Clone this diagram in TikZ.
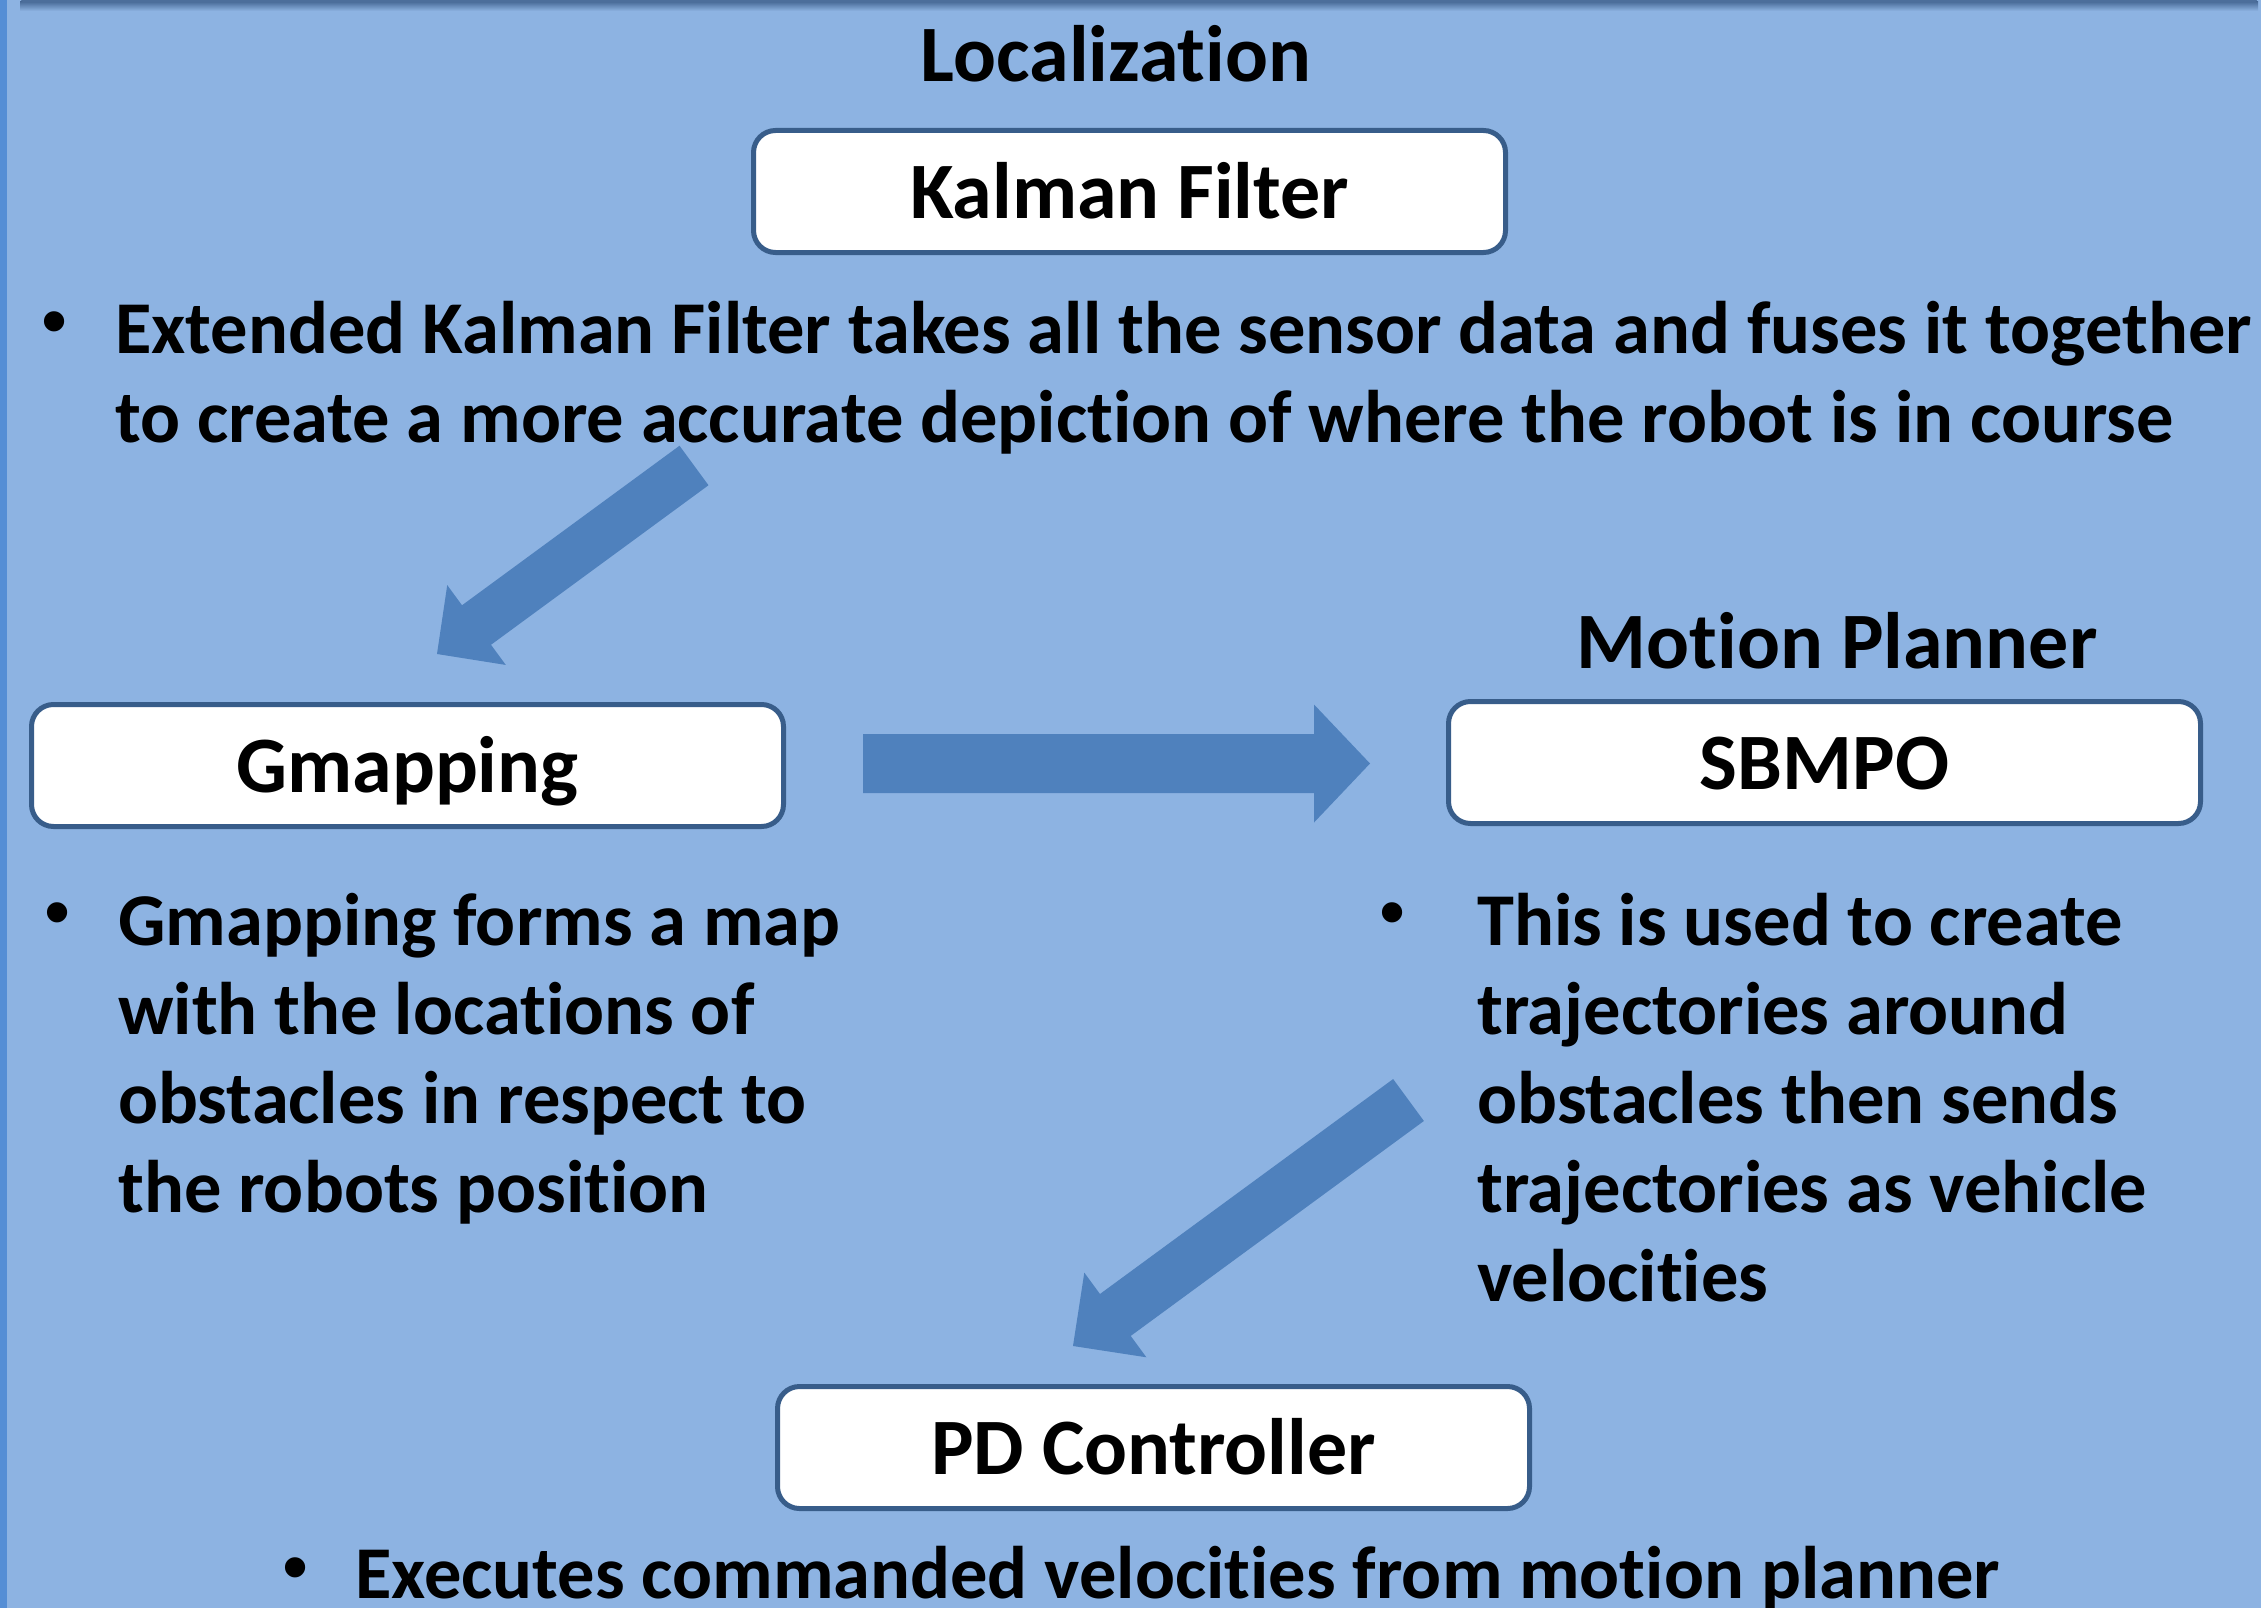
\documentclass[tikz,border=0pt]{standalone}
\usepackage{fontspec}
\setmainfont{Carlito}[Ligatures=NoCommon]
\newfontfamily\bulletfont{Liberation Sans}
\usetikzlibrary{calc}

\definecolor{slidebg}{HTML}{8DB3E2}
\definecolor{edgeblue}{HTML}{558ED5}
\definecolor{topshade}{HTML}{4C6E9B}
\definecolor{boxline}{HTML}{385D8A}
\definecolor{arrowblue}{HTML}{4F81BD}

\tikzset{
  headfont/.style={font=\fontsize{80}{89}\selectfont\bfseries},
  bodyfont/.style={font=\fontsize{74.5}{89}\selectfont\bfseries},
  titlebox/.style={draw=boxline, line width=5pt, fill=white, rounded corners=22pt,
    minimum width=752pt, minimum height=122pt, inner sep=0pt,
    text height=54pt, text depth=0pt, headfont},
  heading/.style={anchor=base, inner sep=0pt, headfont},
  bodytext/.style={anchor=base west, inner sep=0pt, bodyfont},
  bulletmark/.style={anchor=center, inner sep=0pt, font=\bulletfont\fontsize{74.5}{89}\selectfont},
  arrowfill/.style={fill=arrowblue}
}

% block arrow: #1 tail, #2 tip, #3 half shaft width, #4 half head width, #5 head length
\newcommand\blockarrow[5]{%
  \coordinate (#1-hb) at ($(#2)!#5!(#1)$);
  \fill[arrowfill] ($(#1)!#3!90:(#2)$) -- ($(#1-hb)!#3!90:(#2)$)
    -- ($(#1-hb)!#4!90:(#2)$) -- (#2) -- ($(#1-hb)!#4!-90:(#2)$)
    -- ($(#1-hb)!#3!-90:(#2)$) -- ($(#1)!#3!-90:(#2)$) -- cycle;}

\begin{document}
\begin{tikzpicture}[x=1pt, y=-1pt]
  \useasboundingbox (0,0) rectangle (2261,1608);
  \fill[slidebg] (0,0) rectangle (2261,1608);
  \fill[edgeblue] (0,0) rectangle (7,1608);
  % shadow of the bar above
  \shade[top color=topshade, bottom color=slidebg] (20,2) rectangle (2258,11);
  \fill[topshade, rounded corners=6pt] (20,-20) rectangle (2258,3);

  % headings and boxes
  \node[heading] (loc) at (1116,82) {Localization};
  \node[titlebox] (kf) at (1129.5,191.5) {Kalman Filter};
  \node[titlebox] (gm) at (407.5,765.5) {Gmapping};
  \node[heading] (mp) at (1837,668) {Motion Planner};
  \node[titlebox] (sb) at (1824.5,762.5) {SBMPO};
  \node[titlebox] (pd) at (1153.5,1447.5) {PD Controller};

  % bullet texts
  \node[bulletmark] (kfb) at (55,329) {•};
  \node[bodytext] (kft) at (115,353) {\vtop{%
    \hbox{Extended Kalman Filter takes all the sensor data and fuses it together}
    \hbox{to create a more accurate depiction of where the robot is in course}}};

  \node[bulletmark] (gmb) at (58,920) {•};
  \node[bodytext] (gmt) at (118,945) {\vtop{%
    \hbox{Gmapping forms a map}
    \hbox{with the locations of}
    \hbox{obstacles in respect to}
    \hbox{the robots position}}};

  \node[bulletmark] (sbb) at (1393,920) {•};
  \node[bodytext] (sbt) at (1477,945) {\vtop{%
    \hbox{This is used to create}
    \hbox{trajectories around}
    \hbox{obstacles then sends}
    \hbox{trajectories as vehicle}
    \hbox{velocities}}};

  \node[bulletmark] (pdb) at (296,1575) {•};
  \node[bodytext] (pdt) at (355,1598) {Executes commanded velocities from motion planner};

  % block arrows between the stages
  \coordinate (a1s) at (694,465.5);
  \coordinate (a1e) at (437,654);
  \blockarrow{a1s}{a1e}{24.5pt}{49.5pt}{49pt}
  \coordinate (a2s) at (863,763.5);
  \coordinate (a2e) at (1370,763.5);
  \blockarrow{a2s}{a2e}{29.5pt}{59pt}{56pt}
  \coordinate (a3s) at (1408.5,1100);
  \coordinate (a3e) at (1073,1346);
  \blockarrow{a3s}{a3e}{26pt}{52.5pt}{52.5pt}
\end{tikzpicture}
\end{document}
